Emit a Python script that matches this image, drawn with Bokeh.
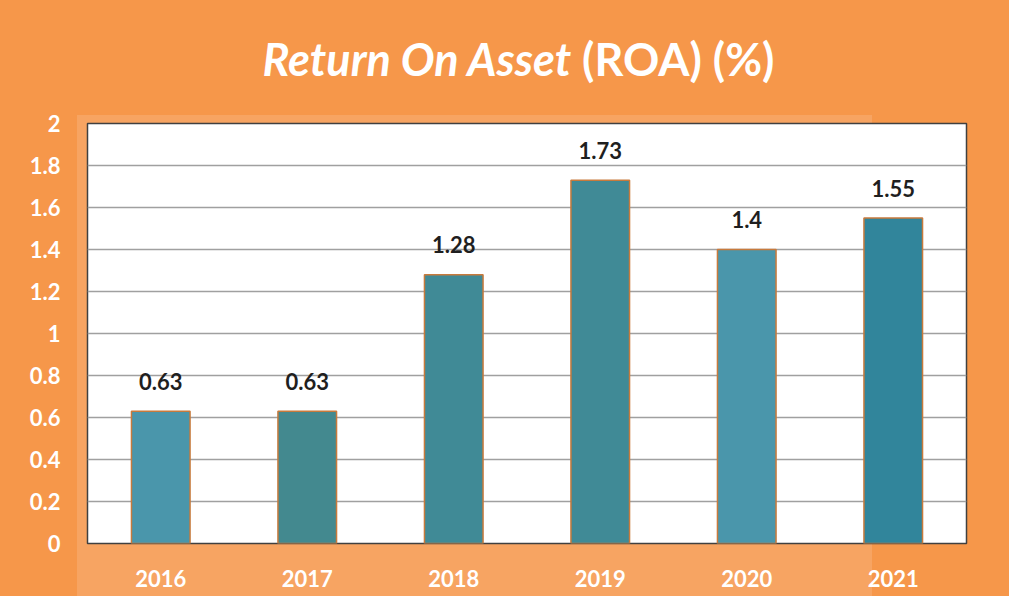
from bokeh.plotting import figure
from bokeh.models import FactorRange, Range1d, FixedTicker, ColumnDataSource, Div
from bokeh.layouts import column
from bokeh.core.properties import value
from bokeh.embed import file_html
from bokeh.resources import INLINE

years = ["2016", "2017", "2018", "2019", "2020", "2021"]
roa = [0.63, 0.63, 1.28, 1.73, 1.4, 1.55]
labels = ["0.63", "0.63", "1.28", "1.73", "1.4", "1.55"]
bar_colors = ["#4A96AB", "#43898F", "#408A96", "#408A96", "#4A96AB", "#31859B"]
y_ticks = [0, 0.2, 0.4, 0.6, 0.8, 1.0, 1.2, 1.4, 1.6, 1.8, 2.0]
y_tick_labels = ["0", "0.2", "0.4", "0.6", "0.8", "1", "1.2", "1.4", "1.6", "1.8", "2"]
title_italic = "Return On Asset"
title_plain = "(ROA) (%)"

ORANGE = "#F6974A"
LIGHT = "#F7A462"
FONT = "Lato"
W = 1009
TOP_H = 95

title = Div(
    text=f'<span style="font-style:italic">{title_italic}</span> {title_plain}',
    width=W, height=TOP_H,
    styles={"background-color": ORANGE, "color": "white", "font-family": FONT,
            "font-weight": "bold", "font-size": "45px", "line-height": "45px",
            "text-align": "center", "padding-top": "37px", "padding-left": "28px",
            "box-sizing": "border-box", "width": f"{W}px", "height": f"{TOP_H}px",
            "margin": "0"})

src = ColumnDataSource(dict(years=years, roa=roa, labels=labels, colors=bar_colors))

band_top = 115 - TOP_H
p = figure(x_range=FactorRange(*years, range_padding=0), y_range=Range1d(0, 2),
           width=W, height=596 - TOP_H, output_backend="svg", toolbar_location=None,
           min_border_left=87, min_border_right=W - 966, min_border_top=123 - TOP_H,
           min_border_bottom=53,
           styles={"background": f"linear-gradient({LIGHT}, {LIGHT}) 77px {band_top}px / 795px 100% no-repeat, {ORANGE}"})
p.border_fill_alpha = 0
p.background_fill_color = "white"
p.outline_line_color = "#404040"
p.outline_line_width = 1.5

p.vbar(x="years", top="roa", width=0.4, source=src, fill_color="colors",
       line_color="#C87A3C", line_width=1.5)

p.text(x="years", y="roa", text="labels", source=src, text_align="center",
       text_baseline="middle", y_offset=-30, text_color="#1F1F1F",
       text_font=value(FONT), text_font_style="bold", text_font_size="22px")

p.xgrid.grid_line_color = None
p.ygrid.grid_line_color = "#A0A0A0"
p.ygrid.grid_line_width = 1.5
p.yaxis.ticker = FixedTicker(ticks=y_ticks)
p.yaxis.major_label_overrides = {t: l for t, l in zip(y_ticks, y_tick_labels)}
for ax in (p.xaxis, p.yaxis):
    ax.axis_line_color = None
    ax.major_tick_line_color = None
    ax.minor_tick_line_color = None
    ax.major_label_text_color = "white"
    ax.major_label_text_font = FONT
    ax.major_label_text_font_style = "bold"
    ax.major_label_text_font_size = "22px"
p.yaxis.major_label_standoff = 21
p.xaxis.major_label_standoff = 20

layout = column(title, p, spacing=0, styles={"background-color": ORANGE})

open("out.html", "w").write(file_html(layout, INLINE))
